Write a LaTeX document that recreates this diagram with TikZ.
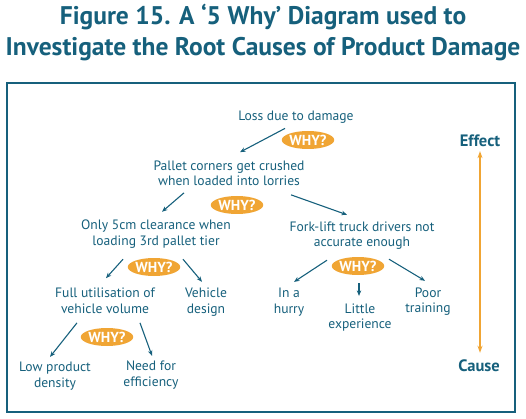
\documentclass[tikz,border=0pt]{standalone}
\usepackage{fontspec}
\setmainfont{PT Sans}
\usepackage{xcolor}
\usetikzlibrary{arrows.meta,positioning,shapes.geometric}
\definecolor{whyteal}{RGB}{22,96,124}
\definecolor{whyorange}{RGB}{240,165,52}

\begin{document}
\begin{tikzpicture}[
        x=1pt,y=-1pt,
        causetext/.style={inner sep=0pt,align=center,text=whyteal,
          font=\fontsize{13.6}{15.5}\selectfont},
        whybadge/.style={ellipse,fill=whyorange,inner sep=0pt,minimum width=52pt,
          minimum height=18pt,text=white,font=\fontsize{14.5}{15}\selectfont\bfseries},
        endtext/.style={inner sep=0pt,text=whyteal,font=\fontsize{16.5}{18}\selectfont\bfseries},
        arrow/.style={-{Stealth[length=5.5pt,width=4.5pt]},line width=1.1pt,draw=whyteal},
        scalearrow/.style={{Stealth[length=7pt,width=5pt]}-{Stealth[length=7pt,width=5pt]},
          line width=1.3pt,draw=whyorange}
      ]
        \useasboundingbox (0,0) rectangle (526,419);
        \node[inner sep=0pt,align=center,text=whyteal,
          font=\fontsize{25.5}{31}\selectfont\bfseries] (title) at (263,32.5)
          {Figure 15. A `5 Why' Diagram used to\\Investigate the Root Causes of Product Damage};
        \draw[whyteal,line width=2pt] (7,83) rectangle (515,412);

        % levels of the chain
        \node[causetext] (loss) at (296,117) {Loss due to damage};
        \node[causetext] (pallet) at (229,173.5) {Pallet corners get crushed\\when loaded into lorries};
        \node[causetext] (clear) at (156,234) {Only 5cm clearance when\\loading 3rd pallet tier};
        \node[causetext] (fork) at (362,235.5) {Fork-lift truck drivers not\\accurate enough};
        \node[causetext] (full) at (105,301) {Full utilisation of\\vehicle volume};
        \node[causetext] (vehicle) at (206,302) {Vehicle\\design};
        \node[causetext] (lowden) at (55,376) {Low product\\density};
        \node[causetext] (need) at (151,375) {Need for\\efficiency};
        \node[causetext] (hurry) at (289,302) {In a\\hurry};
        \node[causetext] (little) at (360,317.5) {Little\\experience};
        \node[causetext] (poor) at (428,301.5) {Poor\\training};

        \node[whybadge] (why1) at (308,140) {WHY?};
        \node[whybadge] (why2) at (237,205) {WHY?};
        \node[whybadge] (why3) at (154,267) {WHY?};
        \node[whybadge] (why4) at (107,337) {WHY?};
        \node[whybadge] (why5) at (358,266) {WHY?};

        \node[endtext] (effect) at (480,141) {Effect};
        \node[endtext] (cause) at (479,366) {Cause};

        \draw[arrow] ([xshift=-11pt,yshift=-5pt]loss.south) -- ([xshift=11pt,yshift=8.5pt]pallet.north);
        \draw[arrow] ([xshift=-45pt,yshift=-6.5pt]pallet.south) -- ([xshift=6pt,yshift=8pt]clear.north);
        \draw[arrow] ([xshift=62pt,yshift=-8.5pt]pallet.south) -- ([xshift=-15pt,yshift=6.5pt]fork.north);
        \draw[arrow] ([xshift=-33pt,yshift=-11pt]clear.south) -- ([xshift=1pt,yshift=10pt]full.north);
        \draw[arrow] ([xshift=27pt,yshift=-11pt]clear.south) -- ([xshift=-4pt,yshift=6pt]vehicle.north);
        \draw[arrow] ([xshift=-28pt,yshift=-9pt]full.south) -- ([xshift=-5pt,yshift=5pt]lowden.north);
        \draw[arrow] ([xshift=35pt,yshift=-9pt]full.south) -- ([xshift=1pt,yshift=5pt]need.north);
        \draw[arrow] ([xshift=-35pt,yshift=-10.5pt]fork.south) -- ([xshift=5pt,yshift=6pt]hurry.north);
        \draw[arrow] ([xshift=-3pt,yshift=-33.5pt]fork.south) -- ([xshift=-1pt,yshift=7.5pt]little.north);
        \draw[arrow] ([xshift=27pt,yshift=-9.5pt]fork.south) -- ([xshift=-3pt,yshift=6.5pt]poor.north);
        \draw[scalearrow] ([yshift=-4pt]effect.south) -- ([yshift=7pt]cause.north -| effect.south);
      \end{tikzpicture}
\end{document}
